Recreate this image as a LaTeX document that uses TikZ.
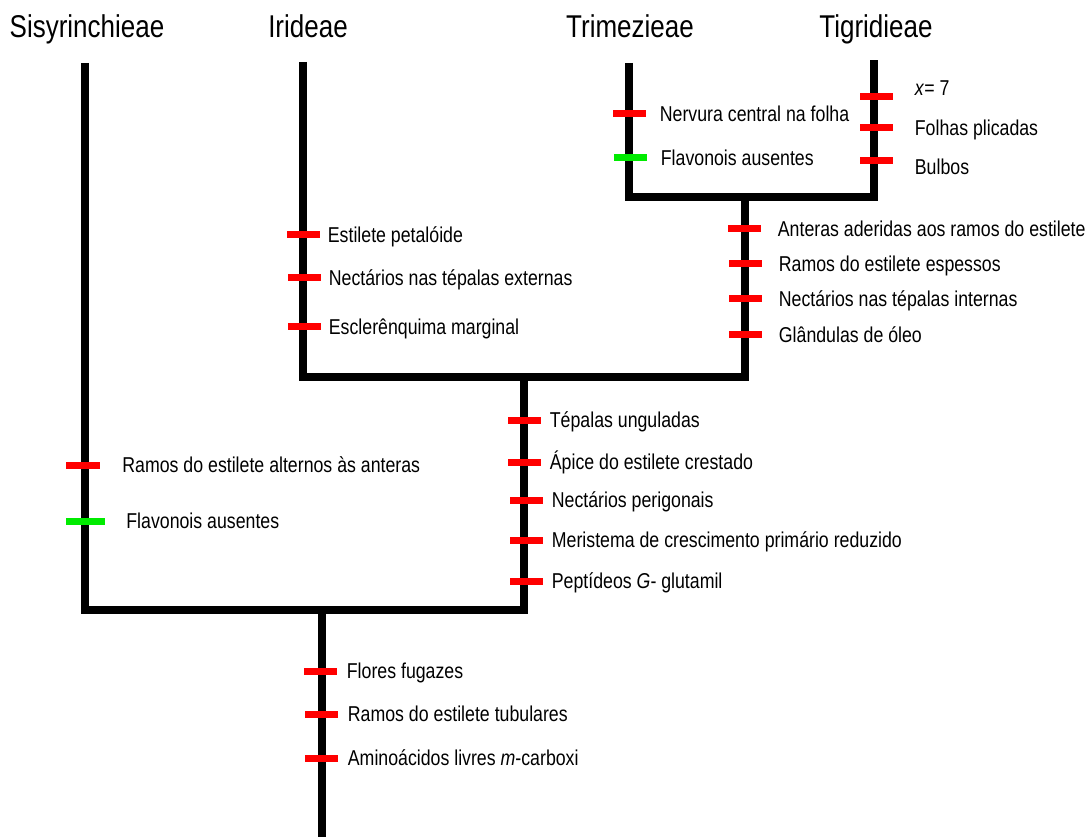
\documentclass[tikz,border=0pt]{standalone}
\usepackage{fontspec}
\setmainfont{Liberation Sans}[FakeStretch=0.825]
\definecolor{synred}{RGB}{255,0,0}
\definecolor{syngreen}{RGB}{0,235,0}

\begin{document}
\begin{tikzpicture}[
		x=1pt, y=-1pt,
		every node/.style={inner sep=0pt},
		branch/.style={line width=8pt, line join=miter},
		redtick/.style={rectangle, fill=synred, minimum width=33pt, minimum height=7pt},
		greentick/.style={redtick, fill=syngreen},
		every label/.append style={font=\fontsize{21.5}{25}\selectfont, text height=15pt, text depth=4pt, yshift=-2pt},
		taxon/.style={font=\fontsize{31.5}{37}\selectfont, anchor=base}
	]
  \useasboundingbox (0,0) rectangle (1088,837);

  \node (sis) [taxon] at (87,38) {Sisyrinchieae};
  \node (iri) [taxon] at (308,38) {Irideae};
  \node (tri) [taxon] at (630,38) {Trimezieae};
  \node (tig) [taxon] at (876,38) {Tigridieae};

  \coordinate (sisT) at (85,63);
  \coordinate (iriT) at (303,62);
  \coordinate (triT) at (629,63);
  \coordinate (tigT) at (874,60);
  \coordinate (tritig) at (745,197);
  \coordinate (core) at (524,377);
  \coordinate (root) at (322,610);
  \coordinate (base) at (322,837);

  \draw [branch] (triT) |- (tritig) -| (tigT);
  \draw [branch] (iriT) |- (core) -| (tritig);
  \draw [branch] (sisT) |- (root) -| (core);
  \draw [branch] (root) -- (base);

  % Trimezieae
  \begin{scope}[label distance=14pt]
    \node (tri1) [redtick, label=right:Nervura central na folha] at (629,114) {};
    \node (tri2) [greentick, label=right:Flavonois ausentes] at (630,158) {};
  \end{scope}

  % Tigridieae
  \begin{scope}[label distance=22pt]
    \node (tig1) [redtick, label={[yshift=9pt]right:\textit{x}= 7}] at (876,97) {};
    \node (tig2) [redtick, label=right:Folhas plicadas] at (876,128) {};
    \node (tig3) [redtick, label={[yshift=-6pt]right:Bulbos}] at (876,161) {};
  \end{scope}

  % Irideae
  \begin{scope}[label distance=8pt]
    \node (iri1) [redtick, label=right:Estilete petalóide] at (303,235) {};
    \node (iri2) [redtick, label=right:Nectários nas tépalas externas] at (304,278) {};
    \node (iri3) [redtick, label=right:Esclerênquima marginal] at (304,327) {};
  \end{scope}

  % Trimezieae + Tigridieae
  \begin{scope}[label distance=17pt]
    \node (tt1) [redtick, label=right:Anteras aderidas aos ramos do estilete] at (744,229) {};
    \node (tt2) [redtick, label=right:Ramos do estilete espessos] at (745,264) {};
    \node (tt3) [redtick, label=right:Nectários nas tépalas internas] at (745,299) {};
    \node (tt4) [redtick, label=right:Glândulas de óleo] at (745,335) {};
  \end{scope}

  % Irideae + Trimezieae + Tigridieae
  \begin{scope}[label distance=9pt]
    \node (cor1) [redtick, label=right:Tépalas unguladas] at (524,420) {};
    \node (cor2) [redtick, label=right:Ápice do estilete crestado] at (524,462) {};
    \node (cor3) [redtick, label=right:Nectários perigonais] at (526,500) {};
    \node (cor4) [redtick, label=right:Meristema de crescimento primário reduzido] at (526,540) {};
    \node (cor5) [redtick, label=right:Peptídeos \textit{G}- glutamil] at (526,581) {};
  \end{scope}

  % Sisyrinchieae
  \node (sis1) [redtick, minimum width=34pt, label={[label distance=22pt]right:Ramos do estilete alternos às anteras}] at (83,465) {};
  \node (sis2) [greentick, minimum width=39pt, label={[label distance=21pt]right:Flavonois ausentes}] at (85.5,521) {};

  % base
  \begin{scope}[label distance=10pt]
    \node (bas1) [redtick, label=right:Flores fugazes] at (320,671) {};
    \node (bas2) [redtick, label=right:Ramos do estilete tubulares] at (321,714) {};
    \node (bas3) [redtick, label=right:Aminoácidos livres \textit{m}-carboxi] at (321,758) {};
  \end{scope}
\end{tikzpicture}
\end{document}
